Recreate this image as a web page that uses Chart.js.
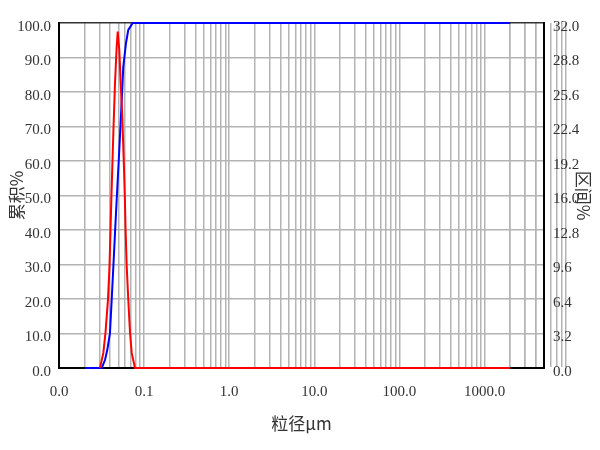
<!DOCTYPE html>
<html>
<head>
<meta charset="utf-8">
<script src="https://cdn.jsdelivr.net/npm/chart.js@4.4.1/dist/chart.umd.min.js"></script>
<style>
  html, body { margin:0; padding:0; background:#fff; }
  #wrap { width:600px; height:450px; }
</style>
</head>
<body>
<div id="wrap"><canvas id="psd" width="600" height="450"></canvas></div>
<script>
// particle size (um) and interval % (red, right axis)
const freqSize = [0.0303,0.0332,0.0352,0.0376,0.0392,0.0403,0.0412,0.0435,0.0455,0.0476,0.0490,0.0511,0.0531,0.0554,0.0580,0.0595,0.0606,0.0625,0.0652,0.0683,0.0715,0.0782,2000];
const freqVal  = [0,1.4,3.3,6.3,9.4,12.8,15.6,21.8,26.4,29.8,31.2,29.5,26.4,23.3,18.6,15.6,12.8,9.4,6.3,3.3,1.4,0,0];
// cumulative % (blue, left axis)
const cumSize = [0.0202,0.0318,0.0347,0.0369,0.0397,0.0416,0.0435,0.0455,0.0476,0.0511,0.0546,0.0569,0.0613,0.0652,0.0735,2000];
const cumVal  = [0,0,2.3,5.2,10.1,19.7,29.3,39.1,48.7,63.2,77.7,87.2,94.2,98.0,100,100];

const xTicks = [0.01,0.1,1,10,100,1000];
const xTickLabels = ['0.0','0.1','1.0','10.0','100.0','1000.0'];
const yLeftTicks = [0,10,20,30,40,50,60,70,80,90,100];
const yRightTicks = [0,3.2,6.4,9.6,12.8,16.0,19.2,22.4,25.6,28.8,32.0];

// minor grid lines 1..9 per decade
function logGrid(){
    const out = [];
    for(let d=0.01; d<=1000; d*=10){
        for(let m=1;m<=9;m++){
            out.push({value:+(d*m).toPrecision(6)});
        }
    }
    out.push({value:2000},{value:3000},{value:4000},{value:5000});
    return out;
}

const numFont = {family:'"Liberation Serif", serif', size:15};
const cjkFont = {family:'"Noto Sans CJK SC", sans-serif', size:17};

const ctx = document.getElementById('psd').getContext('2d');
const psdChart = new Chart(ctx, {
    type:'line',
    data:{datasets:[
        {label:'区间%', data:freqSize.map((s,i)=>({x:s,y:freqVal[i]})), yAxisID:'y1',
         borderColor:'#ff0000', borderWidth:2, pointRadius:0, tension:0, fill:false, clip:4},
        {label:'累积%', data:cumSize.map((s,i)=>({x:s,y:cumVal[i]})), yAxisID:'y',
         borderColor:'#0000ff', borderWidth:2, pointRadius:0, tension:0, fill:false, clip:4}
    ]},
    options:{
        responsive:false,
        animation:false,
        layout:{padding:{top:23,left:0,right:0,bottom:0}},
        plugins:{legend:{display:false}, tooltip:{enabled:false}},
        scales:{
            x:{
                type:'logarithmic', min:0.01, max:5000,
                afterBuildTicks:s=>{ s.ticks = logGrid(); },
                afterFit:s=>{ s.height = 82; },
                grid:{color:'#b4b4b4', lineWidth:1.5, drawTicks:false},
                border:{color:'#000', width:2},
                ticks:{
                    autoSkip:false, maxRotation:0, padding:15, color:'#333', font:numFont,
                    callback:v=>{
                        const i = xTicks.findIndex(t=>Math.abs(v-t)/t<1e-6);
                        return i>=0 ? xTickLabels[i] : '';
                    }
                },
                title:{display:true, text:'粒径μm', color:'#333', font:cjkFont, padding:{top:0,bottom:16}}
            },
            y:{
                position:'left', min:0, max:100,
                afterBuildTicks:s=>{ s.ticks = yLeftTicks.map(v=>({value:v})); },
                afterFit:s=>{ s.width = 59; },
                grid:{color:c=>c.tick && c.tick.value===100 ? '#333' : '#b4b4b4', lineWidth:1.5, drawTicks:false},
                border:{color:'#000', width:2},
                ticks:{padding:8, labelOffset:4, color:'#333', font:numFont, callback:v=>v.toFixed(1)},
                title:{display:true, text:'累积%', color:'#333', font:cjkFont, padding:{top:6,bottom:0}}
            },
            y1:{
                position:'right', min:0, max:32,
                afterBuildTicks:s=>{ s.ticks = yRightTicks.map(v=>({value:v})); },
                afterFit:s=>{ s.width = 56; },
                grid:{drawOnChartArea:false, drawTicks:false},
                border:{color:'#000', width:2},
                ticks:{padding:9, labelOffset:4, color:'#333', font:numFont, callback:v=>v.toFixed(1)},
                title:{display:true, text:'区间%', color:'#333', font:cjkFont, padding:{top:6,bottom:0}}
            }
        }
    }
});
</script>
</body>
</html>
